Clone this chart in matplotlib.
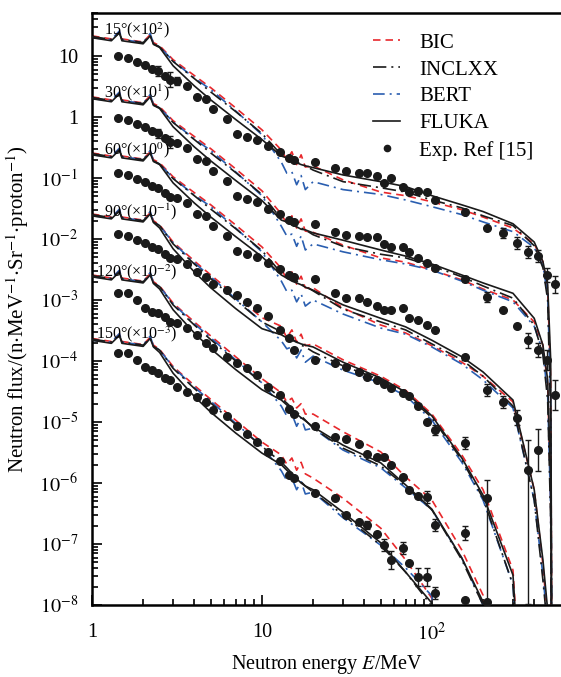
import numpy as np
import matplotlib
matplotlib.use("Agg")
import matplotlib.pyplot as plt
from matplotlib.lines import Line2D
from matplotlib.ticker import FixedLocator, FuncFormatter, LogLocator, NullFormatter

plt.rcParams['font.family'] = ['Liberation Serif', 'DejaVu Serif']
plt.rcParams['mathtext.fontset'] = 'stix'

# ---------------- data (flux values stored as log10, unscaled) ----------------
angles = [15, 30, 60, 90, 120, 150]
scale_exp = [2, 1, 0, -1, -2, -3]          # curves are multiplied by 10**scale_exp

E_low = [1, 1.3, 1.45, 1.5, 2.0, 2.2, 2.3, 2.5, 3, 4, 5, 7, 10]
energy_15 = E_low + [13, 14, 15, 16, 17, 18, 20, 30, 50, 70, 100, 150, 200, 300, 400, 450, 480, 500, 510]
energy_30 = E_low + [13, 14, 15, 16, 17, 18, 20, 30, 50, 70, 100, 150, 200, 300, 400, 450, 480, 500, 510]
energy_60 = E_low + [13, 14, 15, 16, 17, 18, 20, 30, 50, 70, 100, 150, 200, 300, 400, 450, 480, 500, 510]
energy_90 = E_low + [13, 14, 15, 16, 17, 18, 20, 30, 50, 70, 100, 150, 200, 300, 400]
energy_120 = E_low + [13, 14, 15, 16, 17, 18, 20, 30, 50, 70, 100, 150, 200, 300]
energy_150 = E_low + [13, 14, 15, 16, 17, 18, 20, 30, 50, 70, 100, 150]

# 15 deg
log_bic_15 = [-0.67, -0.72, -0.60, -0.72, -0.77, -0.65, -0.78, -0.83, -1.06, -1.32, -1.52, -1.85, -2.21,
              -2.54, -2.70, -2.57, -2.78, -2.62, -2.82, -2.80, -3.03, -3.23, -3.29, -3.39, -3.52, -3.64, -3.82, -4.08, -4.37, -4.83, -6.31, -12]
log_incl_15 = [-0.68, -0.73, -0.62, -0.73, -0.78, -0.67, -0.80, -0.85, -1.09, -1.37, -1.59, -1.91, -2.27,
               -2.62, -2.67, -2.70, -2.73, -2.77, -2.80, -2.87, -3.06, -3.16, -3.23, -3.36, -3.49, -3.62, -3.78, -4.11, -4.47, -5.00, -6.97, -12]
log_bert_15 = [-0.70, -0.73, -0.59, -0.73, -0.78, -0.63, -0.80, -0.85, -1.08, -1.36, -1.55, -1.90, -2.29,
               -2.74, -2.92, -2.90, -3.11, -2.96, -3.19, -3.06, -3.19, -3.27, -3.36, -3.47, -3.60, -3.72, -3.88, -4.14, -4.44, -4.91, -6.64, -12]
log_fluka_15 = [-0.70, -0.75, -0.62, -0.75, -0.80, -0.67, -0.81, -0.86, -1.16, -1.49, -1.72, -2.04, -2.37,
                -2.64, -2.67, -2.72, -2.75, -2.78, -2.80, -2.83, -2.95, -3.06, -3.14, -3.29, -3.44, -3.55, -3.75, -4.05, -4.37, -4.75, -5.98, -12]
# 30 deg
log_bic_30 = [-0.67, -0.72, -0.60, -0.72, -0.77, -0.65, -0.78, -0.83, -1.06, -1.32, -1.52, -1.85, -2.21,
              -2.59, -2.75, -2.62, -2.82, -2.67, -2.87, -2.89, -3.10, -3.31, -3.38, -3.51, -3.67, -3.82, -4.00, -4.36, -4.74, -5.39, -7.28, -12]
log_incl_30 = [-0.68, -0.73, -0.62, -0.73, -0.78, -0.67, -0.80, -0.85, -1.09, -1.37, -1.59, -1.91, -2.27,
               -2.67, -2.72, -2.75, -2.79, -2.82, -2.85, -2.93, -3.12, -3.25, -3.31, -3.44, -3.62, -3.77, -3.97, -4.41, -4.90, -5.64, -7.61, -12]
log_bert_30 = [-0.70, -0.73, -0.59, -0.73, -0.78, -0.63, -0.80, -0.85, -1.08, -1.36, -1.55, -1.90, -2.29,
               -2.79, -2.95, -2.92, -3.12, -2.95, -3.18, -3.08, -3.21, -3.34, -3.41, -3.51, -3.69, -3.84, -4.03, -4.43, -4.85, -5.56, -7.44, -12]
log_fluka_30 = [-0.70, -0.75, -0.62, -0.75, -0.80, -0.67, -0.81, -0.86, -1.16, -1.49, -1.72, -2.04, -2.37,
                -2.69, -2.72, -2.77, -2.80, -2.84, -2.85, -2.90, -3.02, -3.18, -3.28, -3.41, -3.59, -3.72, -3.89, -4.30, -4.74, -5.31, -6.95, -12]
# 60 deg
log_bic_60 = [-0.59, -0.64, -0.52, -0.64, -0.69, -0.57, -0.70, -0.75, -0.98, -1.24, -1.44, -1.77, -2.13,
              -2.48, -2.67, -2.54, -2.74, -2.61, -2.80, -2.80, -3.13, -3.41, -3.54, -3.75, -4.02, -4.25, -4.67, -6.11, -7.34, -8.25, -12, -12]
log_incl_60 = [-0.60, -0.65, -0.54, -0.65, -0.70, -0.59, -0.72, -0.77, -1.01, -1.29, -1.51, -1.83, -2.19,
               -2.56, -2.61, -2.66, -2.69, -2.74, -2.77, -2.85, -3.15, -3.36, -3.49, -3.72, -3.98, -4.25, -4.74, -6.28, -7.59, -8.41, -12, -12]
log_bert_60 = [-0.62, -0.65, -0.51, -0.65, -0.70, -0.55, -0.72, -0.77, -1.00, -1.28, -1.47, -1.82, -2.21,
               -2.69, -2.86, -2.84, -3.03, -2.90, -3.10, -3.00, -3.23, -3.46, -3.56, -3.77, -4.05, -4.31, -4.77, -6.28, -7.51, -8.33, -12, -12]
log_fluka_60 = [-0.62, -0.67, -0.54, -0.67, -0.72, -0.59, -0.73, -0.78, -1.08, -1.41, -1.64, -1.96, -2.29,
                -2.59, -2.64, -2.69, -2.72, -2.75, -2.79, -2.84, -3.08, -3.30, -3.44, -3.66, -3.93, -4.18, -4.64, -6.11, -7.26, -8.08, -12, -12]
# 90 deg
log_bic_90 = [-0.59, -0.64, -0.52, -0.64, -0.69, -0.57, -0.70, -0.77, -1.05, -1.36, -1.59, -1.93, -2.29,
              -2.43, -2.62, -2.49, -2.69, -2.56, -2.75, -2.72, -2.98, -3.25, -3.48, -3.87, -4.54, -5.11, -6.43, -12]
log_incl_90 = [-0.60, -0.65, -0.54, -0.65, -0.70, -0.59, -0.72, -0.78, -1.08, -1.41, -1.65, -2.00, -2.36,
               -2.52, -2.59, -2.64, -2.69, -2.74, -2.77, -2.85, -3.08, -3.31, -3.54, -3.93, -4.62, -5.25, -6.67, -12]
log_bert_90 = [-0.62, -0.65, -0.51, -0.65, -0.70, -0.55, -0.72, -0.78, -1.06, -1.39, -1.62, -1.98, -2.36,
               -2.67, -2.80, -2.77, -2.95, -2.82, -3.02, -2.92, -3.15, -3.36, -3.57, -3.97, -4.66, -5.28, -6.67, -12]
log_fluka_90 = [-0.62, -0.67, -0.54, -0.67, -0.72, -0.59, -0.73, -0.82, -1.16, -1.54, -1.80, -2.14, -2.47,
                -2.57, -2.62, -2.66, -2.69, -2.72, -2.74, -2.77, -3.02, -3.28, -3.51, -3.90, -4.59, -5.20, -6.51, -12]
# 120 deg
log_bic_120 = [-0.59, -0.64, -0.52, -0.64, -0.69, -0.57, -0.70, -0.77, -1.05, -1.36, -1.59, -1.93, -2.29,
               -2.52, -2.67, -2.61, -2.77, -2.70, -2.87, -2.87, -3.16, -3.49, -3.90, -4.28, -5.10, -5.84, -12]
log_incl_120 = [-0.60, -0.65, -0.54, -0.65, -0.70, -0.59, -0.72, -0.78, -1.08, -1.41, -1.65, -2.00, -2.36,
                -2.61, -2.69, -2.77, -2.84, -2.90, -2.97, -3.10, -3.43, -3.72, -4.05, -4.44, -5.26, -6.00, -12]
log_bert_120 = [-0.62, -0.65, -0.51, -0.65, -0.70, -0.55, -0.72, -0.78, -1.06, -1.39, -1.62, -1.98, -2.36,
                -2.74, -2.90, -2.87, -3.07, -2.93, -3.13, -3.10, -3.46, -3.75, -4.08, -4.44, -5.23, -6.00, -12]
log_fluka_120 = [-0.62, -0.67, -0.54, -0.67, -0.72, -0.59, -0.73, -0.82, -1.16, -1.54, -1.80, -2.14, -2.47,
                 -2.64, -2.72, -2.80, -2.87, -2.93, -2.98, -3.08, -3.38, -3.67, -4.03, -4.43, -5.23, -5.95, -12]
# 150 deg
log_bic_150 = [-0.63, -0.68, -0.56, -0.68, -0.73, -0.61, -0.74, -0.81, -1.09, -1.40, -1.63, -1.97, -2.33,
               -2.54, -2.69, -2.59, -2.79, -2.66, -2.85, -2.92, -3.25, -3.74, -4.26, -4.89, -12]
log_incl_150 = [-0.64, -0.69, -0.58, -0.69, -0.74, -0.63, -0.76, -0.82, -1.12, -1.45, -1.69, -2.04, -2.40,
                -2.66, -2.75, -2.84, -2.92, -2.98, -3.05, -3.15, -3.52, -4.02, -4.46, -5.02, -12]
log_bert_150 = [-0.66, -0.69, -0.55, -0.69, -0.74, -0.59, -0.76, -0.82, -1.10, -1.43, -1.66, -2.02, -2.40,
                -2.80, -2.96, -2.92, -3.11, -2.98, -3.18, -3.15, -3.57, -4.02, -4.39, -4.85, -12]
log_fluka_150 = [-0.66, -0.71, -0.58, -0.71, -0.76, -0.63, -0.77, -0.86, -1.20, -1.58, -1.84, -2.18, -2.51,
                 -2.70, -2.79, -2.87, -2.93, -3.00, -3.05, -3.11, -3.48, -3.98, -4.46, -4.97, -12]

# experimental data (Ref [15])
exp_energy = [1.42, 1.63, 1.84, 2.05, 2.25, 2.44, 2.69, 2.88, 3.16, 3.62,
              4.15, 4.69, 5.15, 6.22, 7.13, 8.17, 9.35, 10.8, 12.8, 14.4,
              15.4, 20.5, 26.9, 31.2, 37.2, 41.5, 47.5, 52.2, 57.4, 67.5,
              73.2, 82.7, 93.5, 104, 156, 211, 262, 316, 367, 421,
              475, 529]
nan = float('nan')
log_exp_15 = [-1.00, -1.03, -1.10, -1.15, -1.21, -1.25, -1.33, -1.39, -1.41, -1.49,
              -1.67, -1.70, -1.87, -2.03, -2.28, -2.33, -2.38, -2.48, -2.57, -2.67,
              -2.70, -2.74, -2.84, -2.89, -2.92, -2.92, -2.97, -3.08, -3.00, -3.15,
              -3.23, -3.21, -3.23, -3.36, -3.56, -3.82, -3.90, -4.07, -4.21, -4.28,
              -4.59, -4.74]
log_exp_30 = [-1.02, -1.05, -1.12, -1.17, -1.23, -1.27, -1.35, -1.41, -1.43, -1.51,
              -1.69, -1.72, -1.89, -2.05, -2.30, -2.35, -2.40, -2.50, -2.59, -2.69,
              -2.72, -2.76, -2.89, -2.93, -2.95, -2.97, -2.97, -3.08, -3.13, -3.13,
              -3.21, -3.31, -3.39, -3.48, -3.66, -3.95, -4.16, -4.43, -4.66, -4.82,
              -4.98, -5.56]
log_exp_60 = [-0.92, -0.95, -1.02, -1.07, -1.13, -1.17, -1.25, -1.31, -1.33, -1.41,
              -1.59, -1.62, -1.79, -1.95, -2.20, -2.25, -2.30, -2.40, -2.49, -2.59,
              -2.62, -2.66, -2.89, -2.97, -2.97, -3.03, -3.10, -3.16, -3.16, -3.13,
              -3.30, -3.33, -3.41, -3.49, -3.93, -4.48, -4.67, -4.93, -5.79, -5.46,
              nan, nan]
log_exp_90 = [-0.92, -0.95, -1.02, -1.07, -1.13, -1.16, -1.25, -1.31, -1.33, -1.41,
              -1.54, -1.62, -1.74, -1.84, -1.92, -2.03, -2.13, -2.26, -2.49, -2.62,
              -2.82, -2.98, -3.03, -3.10, -3.18, -3.26, -3.31, -3.38, -3.44, -3.52,
              -3.57, -3.74, -4.00, -4.13, -4.34, -5.25, nan, nan, nan, nan,
              nan, nan]
log_exp_120 = [-0.89, -0.89, -1.00, -1.13, -1.20, -1.21, -1.28, -1.36, -1.38, -1.46,
               -1.57, -1.70, -1.79, -1.93, -2.03, -2.11, -2.23, -2.43, -2.56, -2.79,
               -2.87, -3.07, -3.25, -3.28, -3.36, -3.52, -3.57, -3.57, -3.70, -3.90,
               -4.11, -4.21, -4.23, -4.69, -4.82, -5.95, nan, nan, nan, nan,
               nan, nan]
log_exp_150 = [-0.87, -0.87, -0.98, -1.10, -1.15, -1.20, -1.28, -1.31, -1.43, -1.51,
               -1.59, -1.67, -1.80, -1.90, -2.07, -2.20, -2.33, -2.49, -2.64, -2.87,
               -2.92, -3.16, -3.25, -3.52, -3.64, -3.69, -3.84, -4.02, -4.26, -4.07,
               -4.31, -4.54, -4.54, -4.80, -4.92, nan, nan, nan, nan, nan,
               nan, nan]

# error bars: energy -> (lower, upper) in decades
err_15 = {2.44: (0.08, 0.08), 2.88: (0.12, 0.12), 3.16: (0.06, 0.06), 262: (0.08, 0.08),
          316: (0.1, 0.1), 367: (0.1, 0.1), 421: (0.1, 0.1), 475: (0.12, 0.12), 529: (0.14, 0.14)}
err_30 = {2.44: (0.08, 0.08), 2.88: (0.1, 0.1), 156: (0.05, 0.05), 211: (0.08, 0.08),
          367: (0.12, 0.12), 421: (0.12, 0.12), 475: (0.16, 0.16), 529: (0.25, 0.25)}
err_60 = {211: (0.1, 0.1), 262: (0.1, 0.1), 316: (0.12, 0.12), 367: (2.2, 0.5), 421: (0.35, 0.35)}
err_90 = {104: (0.08, 0.08), 156: (0.1, 0.1), 211: (1.8, 0.3)}
err_120 = {93.5: (0.1, 0.1), 104: (0.1, 0.1), 156: (0.12, 0.12)}
err_150 = {41.5: (0.06, 0.06), 52.2: (0.1, 0.1), 57.4: (0.15, 0.15), 67.5: (0.1, 0.1),
           82.7: (0.15, 0.15), 93.5: (0.15, 0.15), 104: (0.1, 0.1)}

series = {
    15: (energy_15, log_bic_15, log_incl_15, log_bert_15, log_fluka_15, log_exp_15, err_15),
    30: (energy_30, log_bic_30, log_incl_30, log_bert_30, log_fluka_30, log_exp_30, err_30),
    60: (energy_60, log_bic_60, log_incl_60, log_bert_60, log_fluka_60, log_exp_60, err_60),
    90: (energy_90, log_bic_90, log_incl_90, log_bert_90, log_fluka_90, log_exp_90, err_90),
    120: (energy_120, log_bic_120, log_incl_120, log_bert_120, log_fluka_120, log_exp_120, err_120),
    150: (energy_150, log_bic_150, log_incl_150, log_bert_150, log_fluka_150, log_exp_150, err_150),
}

# ---------------- styles ----------------
RED = '#e8282c'
BLUE = '#2a5eb0'
BLACK = '#1a1a1a'
st_bic = dict(color=RED, lw=1.2, ls=(0, (4.5, 3)))
st_incl = dict(color=BLACK, lw=1.2, ls=(0, (8, 3, 1.2, 3)))
st_bert = dict(color=BLUE, lw=1.2, ls=(0, (7, 3, 1.2, 3)))
st_fluka = dict(color=BLACK, lw=1.2, ls='-')

fig = plt.figure(figsize=(5.61, 6.77), dpi=100)
ax = fig.add_axes([92 / 561, 1 - 605 / 677, (561 - 92) / 561, (605 - 13) / 677])
ax.set_xscale('log')
ax.set_yscale('log')

for ang, k in zip(angles, scale_exp):
    en, lb, li, lt, lf, le, er = series[ang]
    en = np.array(en, dtype=float)
    f = 10.0 ** k
    ax.plot(en, f * 10 ** np.array(lb), zorder=2, **st_bic)
    ax.plot(en, f * 10 ** np.array(lt), zorder=2, **st_bert)
    ax.plot(en, f * 10 ** np.array(li), zorder=3, **st_incl)
    ax.plot(en, f * 10 ** np.array(lf), zorder=4, **st_fluka)
    ee = np.array(exp_energy)
    yy = f * 10 ** np.array(le, dtype=float)
    lo = np.zeros_like(yy)
    hi = np.zeros_like(yy)
    for e_, (a, b) in er.items():
        i = int(np.argmin(np.abs(ee - e_)))
        lo[i] = yy[i] * (1 - 10 ** (-a))
        hi[i] = yy[i] * (10 ** b - 1)
    ax.errorbar(ee, yy, yerr=[lo, hi], fmt='o', ms=5.5, color=BLACK, ecolor=BLACK,
                elinewidth=1.0, capsize=2.5, capthick=1.0, zorder=5)

ax.set_xlim(1, 575)
ax.set_ylim(1e-8, 50.7)

# angle labels
label_x = [0.026, 0.026, 0.026, 0.026, 0.009, 0.009]
label_pos = [0.971, 0.866, 0.768, 0.664, 0.563, 0.458]
for ang, k, xp, yp in zip(angles, scale_exp, label_x, label_pos):
    ax.text(xp, yp, f"{ang}°(×10$^{{{k}}}$)", transform=ax.transAxes,
            fontsize=11.5, ha='left', va='center', zorder=6)

# ticks
yt = [10.0 ** p for p in range(-8, 2)]
def ylab(v, pos):
    p = int(round(np.log10(v)))
    if p == 1:
        return '10'
    if p == 0:
        return '1'
    return r'$10^{%d}$' % p
def xlab(v, pos):
    p = int(round(np.log10(v)))
    return {0: '1', 1: '10', 2: r'$10^{2}$'}.get(p, '')
ax.yaxis.set_major_locator(FixedLocator(yt))
ax.yaxis.set_major_formatter(FuncFormatter(ylab))
ax.yaxis.set_minor_locator(LogLocator(base=10, subs=np.arange(2, 10), numticks=30))
ax.yaxis.set_minor_formatter(NullFormatter())
ax.xaxis.set_major_locator(FixedLocator([1, 10, 100]))
ax.xaxis.set_major_formatter(FuncFormatter(xlab))
ax.xaxis.set_minor_locator(LogLocator(base=10, subs=np.arange(2, 10), numticks=30))
ax.xaxis.set_minor_formatter(NullFormatter())
ax.tick_params(which='both', direction='in', top=False, right=False, labelsize=14.5, width=1.2)
ax.tick_params(axis='x', which='major', length=7, pad=13)
ax.tick_params(axis='y', which='major', length=7, pad=10)
ax.tick_params(which='minor', length=4)
for s in ['left', 'bottom', 'top']:
    ax.spines[s].set_linewidth(1.8)
ax.spines['right'].set_visible(False)

ax.set_xlabel(r'Neutron energy $E$/MeV', fontsize=14.5, labelpad=6)
ax.set_ylabel(r'Neutron flux/(n$\cdot$MeV$^{-1}$$\cdot$Sr$^{-1}$$\cdot$proton$^{-1}$)', fontsize=15, labelpad=6)

handles = [Line2D([], [], **st_bic), Line2D([], [], **st_incl), Line2D([], [], **st_bert),
           Line2D([], [], **st_fluka),
           Line2D([], [], marker='o', ms=4.5, color=BLACK, ls='none')]
labels = ['BIC', 'INCLXX', 'BERT', 'FLUKA', 'Exp. Ref [15]']
ax.legend(handles, labels, loc='upper left', bbox_to_anchor=(0.600, 0.966), frameon=False,
          fontsize=15, handlelength=1.3, handletextpad=0.9, labelspacing=0.35,
          borderaxespad=0, borderpad=0)

fig.savefig('out.png', dpi=100)
